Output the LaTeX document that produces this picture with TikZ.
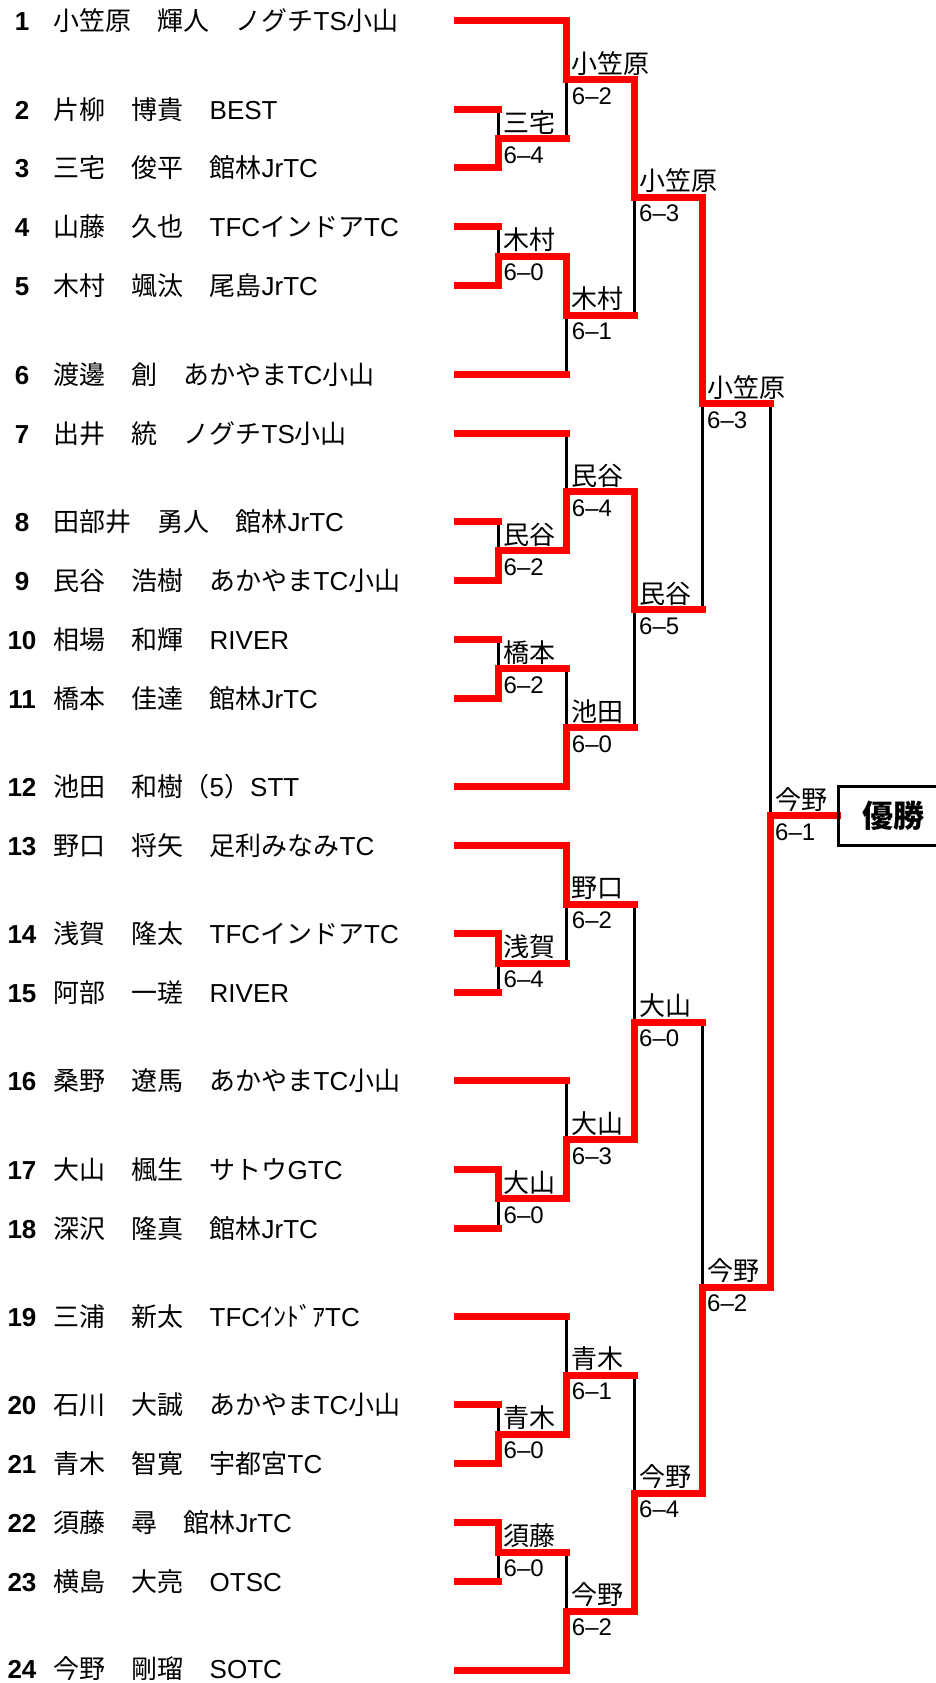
\documentclass[tikz,border=0pt]{standalone}
\usepackage{fontspec}
\setmainfont{Noto Sans CJK JP}
\newfontfamily\latfam{Liberation Sans}
\newcommand\LT[1]{{\latfam #1}}
\pgfdeclarelayer{bg}
\pgfsetlayers{bg,main}
\tikzset{
  rd/.style={draw={rgb,255:red,255;green,0;blue,0}, line width=7pt, line cap=rect, line join=miter},
  blk/.style={draw=black, line width=3pt},
  num/.style={font=\fontsize{26}{26}\selectfont\latfam\bfseries, inner sep=0pt, anchor=base, yshift=-10pt},
  nm/.style={font=\fontsize{26}{26}\selectfont, inner sep=0pt, anchor=base west, yshift=-10pt},
  win/.style={font=\fontsize{26}{26}\selectfont, inner sep=0pt, anchor=base west, xshift=5pt, yshift=6.5pt},
  sc/.style={font=\fontsize{24}{24}\selectfont\latfam, inner sep=0pt, anchor=base west, xshift=5pt, yshift=-24.5pt},
  champbox/.style={draw=black, line width=3pt, inner sep=0pt, minimum width=110pt, minimum height=58.9pt, anchor=west, font=\fontsize{31}{31}\selectfont\bfseries},
}
% player: id, line y, text y, text
\newcommand\pl[4]{%
  \coordinate (p#1) at (457.5,#2);
  \node[num] (n#1) at (22,#3) {#1};
  \node[nm] (t#1) at (53.5,#3) {#4};
}
% match: name, winner input, loser input, next, winner label, score
\newcommand\mt[6]{%
  \begin{pgfonlayer}{bg}\draw[blk] (#1 |- #3) -- (#1);\end{pgfonlayer}
  \draw[rd] (#1 |- #2) -- (#1) -- (#4 |- #1);
  \node[win] (#1w) at (#1) {#5};
  \node[sc] (#1s) at (#1) {#6};
}
\begin{document}
\begin{tikzpicture}[x=1pt, y=-1pt]
\useasboundingbox (0,0) rectangle (936,1683);
% players
\pl{1}{20.70}{20.70}{小笠原　輝人　ノグチ\LT{TS}小山}
\pl{2}{109.05}{109.05}{片柳　博貴　\LT{BEST}}
\pl{3}{167.95}{167.95}{三宅　俊平　館林\LT{JrTC}}
\pl{4}{226.85}{226.85}{山藤　久也　\LT{TFC}インドア\LT{TC}}
\pl{5}{285.75}{285.75}{木村　颯汰　尾島\LT{JrTC}}
\pl{6}{374.10}{374.10}{渡邊　創　あかやま\LT{TC}小山}
\pl{7}{433.00}{433.00}{出井　統　ノグチ\LT{TS}小山}
\pl{8}{521.35}{521.35}{田部井　勇人　館林\LT{JrTC}}
\pl{9}{580.25}{580.25}{民谷　浩樹　あかやま\LT{TC}小山}
\pl{10}{639.15}{639.15}{相場　和輝　\LT{RIVER}}
\pl{11}{698.05}{698.05}{橋本　佳達　館林\LT{JrTC}}
\pl{12}{786.40}{786.40}{池田　和樹（\LT{5}）\LT{STT}}
\pl{13}{845.30}{845.30}{野口　将矢　足利みなみ\LT{TC}}
\pl{14}{933.65}{933.65}{浅賀　隆太　\LT{TFC}インドア\LT{TC}}
\pl{15}{992.55}{992.55}{阿部　一瑳　\LT{RIVER}}
\pl{16}{1080.90}{1080.90}{桑野　遼馬　あかやま\LT{TC}小山}
\pl{17}{1169.25}{1169.25}{大山　楓生　サトウ\LT{GTC}}
\pl{18}{1228.15}{1228.15}{深沢　隆真　館林\LT{JrTC}}
\pl{19}{1316.50}{1316.50}{三浦　新太　\LT{TFC}ｲﾝﾄﾞｱ\LT{TC}}
\pl{20}{1404.85}{1404.85}{石川　大誠　あかやま\LT{TC}小山}
\pl{21}{1463.75}{1463.75}{青木　智寛　宇都宮\LT{TC}}
\pl{22}{1522.65}{1522.65}{須藤　尋　館林\LT{JrTC}}
\pl{23}{1581.55}{1581.55}{横島　大亮　\LT{OTSC}}
\pl{24}{1670.00}{1668.50}{今野　剛瑠　\LT{SOTC}}
% match points
\coordinate (r1a) at (498.5,138.50);
\coordinate (r1b) at (498.5,256.30);
\coordinate (r1c) at (498.5,550.80);
\coordinate (r1d) at (498.5,668.60);
\coordinate (r1e) at (498.5,963.10);
\coordinate (r1f) at (498.5,1198.70);
\coordinate (r1g) at (498.5,1434.30);
\coordinate (r1h) at (498.5,1552.10);
\coordinate (r2a) at (566.7,79.60);
\coordinate (r2b) at (566.7,315.20);
\coordinate (r2c) at (566.7,491.90);
\coordinate (r2d) at (566.7,727.50);
\coordinate (r2e) at (566.7,904.20);
\coordinate (r2f) at (566.7,1139.80);
\coordinate (r2g) at (566.7,1375.40);
\coordinate (r2h) at (566.7,1611.05);
\coordinate (r3a) at (634,197.40);
\coordinate (r3b) at (634,609.70);
\coordinate (r3c) at (634,1022.00);
\coordinate (r3d) at (634,1493.23);
\coordinate (r4a) at (702,403.55);
\coordinate (r4b) at (702,1287.05);
\coordinate (fin) at (770,815.85);
% player lines
\draw[rd] (p1) -- (r2a |- p1);
\draw[rd] (p2) -- (r1a |- p2);
\draw[rd] (p3) -- (r1a |- p3);
\draw[rd] (p4) -- (r1b |- p4);
\draw[rd] (p5) -- (r1b |- p5);
\draw[rd] (p6) -- (r2b |- p6);
\draw[rd] (p7) -- (r2c |- p7);
\draw[rd] (p8) -- (r1c |- p8);
\draw[rd] (p9) -- (r1c |- p9);
\draw[rd] (p10) -- (r1d |- p10);
\draw[rd] (p11) -- (r1d |- p11);
\draw[rd] (p12) -- (r2d |- p12);
\draw[rd] (p13) -- (r2e |- p13);
\draw[rd] (p14) -- (r1e |- p14);
\draw[rd] (p15) -- (r1e |- p15);
\draw[rd] (p16) -- (r2f |- p16);
\draw[rd] (p17) -- (r1f |- p17);
\draw[rd] (p18) -- (r1f |- p18);
\draw[rd] (p19) -- (r2g |- p19);
\draw[rd] (p20) -- (r1g |- p20);
\draw[rd] (p21) -- (r1g |- p21);
\draw[rd] (p22) -- (r1h |- p22);
\draw[rd] (p23) -- (r1h |- p23);
\draw[rd] (p24) -- (r2h |- p24);
% round 1
\mt{r1a}{p3}{p2}{r2a}{三宅}{6–4}
\mt{r1b}{p5}{p4}{r2b}{木村}{6–0}
\mt{r1c}{p9}{p8}{r2c}{民谷}{6–2}
\mt{r1d}{p11}{p10}{r2d}{橋本}{6–2}
\mt{r1e}{p14}{p15}{r2e}{浅賀}{6–4}
\mt{r1f}{p17}{p18}{r2f}{大山}{6–0}
\mt{r1g}{p21}{p20}{r2g}{青木}{6–0}
\mt{r1h}{p22}{p23}{r2h}{須藤}{6–0}
% round 2
\mt{r2a}{p1}{r1a}{r3a}{小笠原}{6–2}
\mt{r2b}{r1b}{p6}{r3a}{木村}{6–1}
\mt{r2c}{r1c}{p7}{r3b}{民谷}{6–4}
\mt{r2d}{p12}{r1d}{r3b}{池田}{6–0}
\mt{r2e}{p13}{r1e}{r3c}{野口}{6–2}
\mt{r2f}{r1f}{p16}{r3c}{大山}{6–3}
\mt{r2g}{r1g}{p19}{r3d}{青木}{6–1}
\mt{r2h}{p24}{r1h}{r3d}{今野}{6–2}
% round 3
\mt{r3a}{r2a}{r2b}{r4a}{小笠原}{6–3}
\mt{r3b}{r2c}{r2d}{r4a}{民谷}{6–5}
\mt{r3c}{r2f}{r2e}{r4b}{大山}{6–0}
\mt{r3d}{r2h}{r2g}{r4b}{今野}{6–4}
% semifinals
\mt{r4a}{r3a}{r3b}{fin}{小笠原}{6–3}
\mt{r4b}{r3d}{r3c}{fin}{今野}{6–2}
% final
\begin{pgfonlayer}{bg}\draw[blk] (fin |- r4a) -- (fin);\end{pgfonlayer}
\draw[rd] (fin |- r4b) -- (fin) -- (837,815.85);
\node[win] (finw) at (fin) {今野};
\node[sc] (fins) at (fin) {6–1};
\node[champbox] (champ) at (837,815.85) {優勝};
\end{tikzpicture}
\end{document}
